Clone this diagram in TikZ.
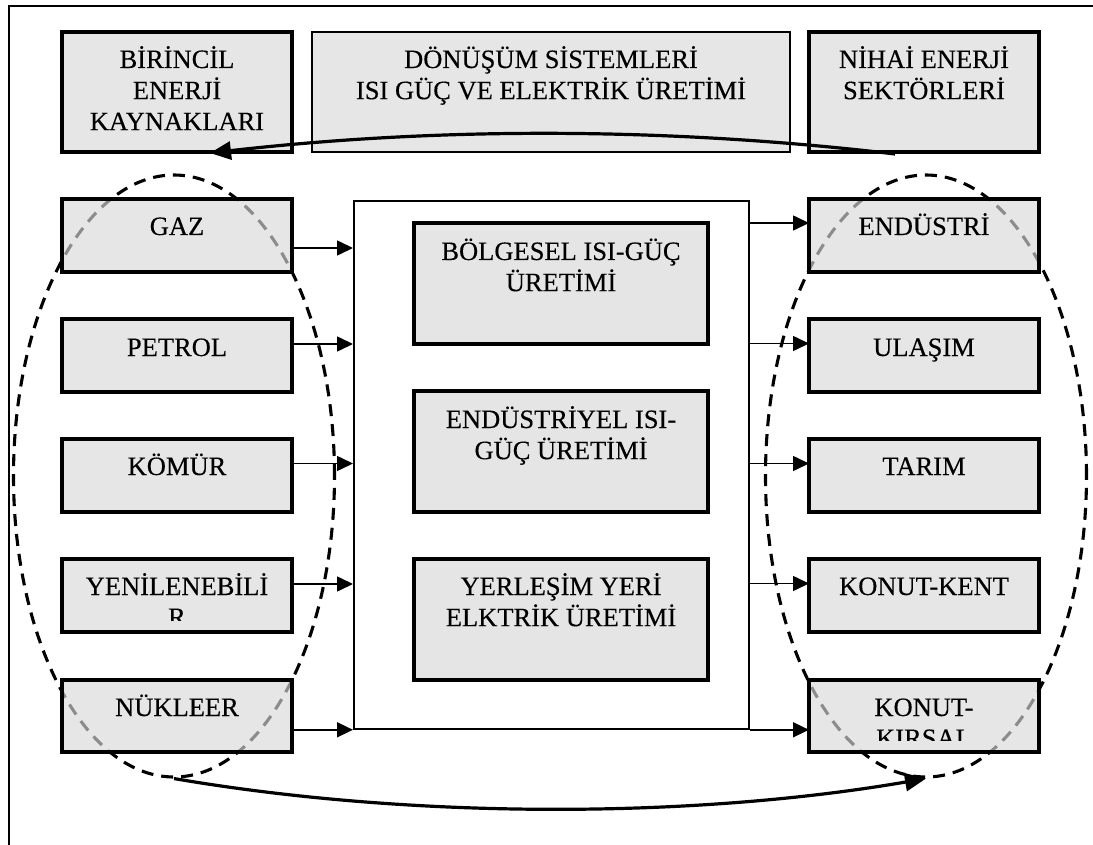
\documentclass[tikz,border=0pt]{standalone}
\usepackage{fontspec}
\setmainfont{Liberation Serif}[FakeBold=0.3]
\usetikzlibrary{arrows.meta,shapes.geometric}
\definecolor{boxfill}{RGB}{216,216,216}
\newcommand{\mlines}[1]{\begin{tabular}[t]{@{}c@{}}#1\end{tabular}}
\begin{document}
\begin{tikzpicture}[x=1pt,y=-1pt,
  box/.style={rectangle, draw, line width=3.4pt, fill=boxfill, fill opacity=0.65, draw opacity=1, inner sep=0pt, outer sep=0pt, anchor=north west, minimum width=230pt, minimum height=73pt},
  thinbox/.style={box, line width=2pt},
  innerbox/.style={box, minimum width=294pt, minimum height=121pt},
  lbl/.style={anchor=base, inner sep=0pt, font=\fontsize{26.5}{31}\selectfont},
  ell/.style={ellipse, draw, line width=3.1pt, dash pattern=on 12pt off 8pt, minimum width=321pt, minimum height=602pt, inner sep=0pt},
  arr/.style={line width=1.6pt, -{Triangle[length=16pt,width=15pt]}},
  bigarr/.style={line width=3.2pt, -{Triangle[length=21pt,width=18pt]}}]
\useasboundingbox (0,0) rectangle (1093,845);
% outer frame (cropped)
\draw[line width=2pt] (9,845) -- (9,6) -- (1093,6);
% dashed groups
\node[ell] (lell) at (174,476) {};
\node[ell] (rell) at (926,476) {};
% header boxes
\node[box, minimum height=120pt] (bir) at (62,32) {};
\node[thinbox, minimum width=478pt, minimum height=120pt] (don) at (312,32) {};
\node[box, minimum height=120pt] (nih) at (809,32) {};
\node[lbl] (birt) at ([yshift=-36pt]bir.north) {\mlines{BİRİNCİL\\ENERJİ\\KAYNAKLARI}};
\node[lbl] (dont) at ([yshift=-36pt]don.north) {\mlines{DÖNÜŞÜM SİSTEMLERİ\\ISI GÜÇ VE ELEKTRİK ÜRETİMİ}};
\node[lbl] (niht) at ([yshift=-36pt]nih.north) {\mlines{NİHAİ ENERJİ\\SEKTÖRLERİ}};
% central box
\node[rectangle, draw, line width=1.8pt, fill=white, anchor=north west, inner sep=0pt, minimum width=395pt, minimum height=528pt] (cen) at (353,200) {};
\node[innerbox] (bol) at (414,223) {};
\node[innerbox] (ind) at (414,391) {};
\node[innerbox] (yer) at (414,559) {};
\node[lbl] (bolt) at ([yshift=-37pt]bol.north) {\mlines{BÖLGESEL ISI-GÜÇ\\ÜRETİMİ}};
\node[lbl] (indt) at ([yshift=-37pt]ind.north) {\mlines{ENDÜSTRİYEL ISI-\\GÜÇ ÜRETİMİ}};
\node[lbl] (yert) at ([yshift=-36pt]yer.north) {\mlines{YERLEŞİM YERİ\\ELKTRİK ÜRETİMİ}};
% left sources
\node[box] (gaz) at (62,199) {};
\node[box] (pet) at (62,319) {};
\node[box] (kom) at (62,439) {};
\node[box] (yen) at (62,559) {};
\node[box, minimum height=72pt] (nuk) at (62,680) {};
\node[lbl] (gazt) at ([yshift=-36pt]gaz.north) {GAZ};
\node[lbl] (pett) at ([yshift=-37pt]pet.north) {PETROL};
\node[lbl] (komt) at ([yshift=-36pt]kom.north) {KÖMÜR};
\begin{scope}
  \clip (yen.north west) rectangle ([yshift=12pt]yen.south east);
  \node[lbl] (yent) at ([yshift=-36pt]yen.north) {\mlines{YENİLENEBİLİ\\R}};
\end{scope}
\node[lbl] (nukt) at ([yshift=-36pt]nuk.north) {NÜKLEER};
% right sectors
\node[box] (end) at (809,199) {};
\node[box] (ula) at (809,319) {};
\node[box] (tar) at (809,439) {};
\node[box] (ken) at (809,559) {};
\node[box, minimum height=72pt] (kir) at (809,680) {};
\node[lbl] (endt) at ([yshift=-36pt]end.north) {ENDÜSTRİ};
\node[lbl] (ulat) at ([yshift=-37pt]ula.north) {ULAŞIM};
\node[lbl] (tart) at ([yshift=-36pt]tar.north) {TARIM};
\node[lbl] (kent) at ([yshift=-36pt]ken.north) {KONUT-KENT};
\begin{scope}
  \clip (kir.north west) rectangle ([yshift=12pt]kir.south east);
  \node[lbl] (kirt) at ([yshift=-36pt]kir.north) {\mlines{KONUT-\\KIRSAL}};
\end{scope}
% arrows into central box
\coordinate (g1) at ([yshift=-12.5pt]gaz.east);
\coordinate (p1) at ([yshift=11.5pt]pet.east);
\coordinate (k1) at ([yshift=12pt]kom.east);
\coordinate (y1) at ([yshift=11.5pt]yen.east);
\coordinate (n1) at (nuk.east |- cen.south);
\draw[arr] (g1) -- (g1 -| cen.west);
\draw[arr] (p1) -- (p1 -| cen.west);
\draw[arr] (k1) -- (k1 -| cen.west);
\draw[arr] (y1) -- (y1 -| cen.west);
\draw[arr] (n1) -- (cen.south west);
% arrows out of central box
\coordinate (e2) at ([yshift=12.5pt]end.west);
\coordinate (u2) at ([yshift=12pt]ula.west);
\coordinate (t2) at ([yshift=12pt]tar.west);
\coordinate (c2) at ([yshift=12pt]ken.west);
\coordinate (r2) at (kir.west |- cen.south);
\draw[arr] (e2 -| cen.east) -- (e2);
\draw[arr] (u2 -| cen.east) -- (u2);
\draw[arr] (t2 -| cen.east) -- (t2);
\draw[arr] (c2 -| cen.east) -- (c2);
\draw[arr] (cen.south east) -- (r2);
% feedback curves
\draw[bigarr] ([xshift=-29pt,yshift=-2pt]nih.south) .. controls (667,127) and (438,127) .. ([xshift=33pt,yshift=-1pt]bir.south);
\draw[bigarr] (lell.south) .. controls (410,819) and (690,819) .. (rell.south);
\end{tikzpicture}
\end{document}
